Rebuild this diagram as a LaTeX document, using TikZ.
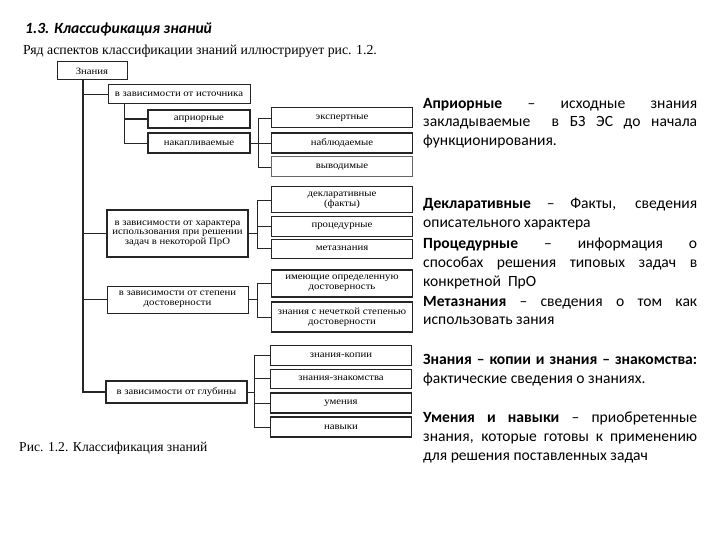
\documentclass[tikz,border=0pt]{standalone}
\usepackage{fontspec}
\setmainfont{Carlito}
\newfontfamily\diafont[FakeStretch=1.12]{Liberation Serif}
\newfontfamily\serfont{Liberation Serif}
\begin{document}
\begin{tikzpicture}[x=1pt,y=-1pt,
  box/.style={draw=black!85,line width=1pt,inner sep=0pt,minimum width=141pt,font=\diafont\fontsize{9.6}{9.6}\selectfont,align=center,fill=white},
  tbox/.style={box,line width=1.5pt},
  conn/.style={draw=black!85,line width=0.9pt},
  rt/.style={anchor=base west,inner sep=0pt,font=\fontsize{15.6}{18}\selectfont}]
\useasboundingbox (0,0) rectangle (720,540);
% headings
\node[anchor=base west,inner sep=0pt,font=\fontsize{15.6}{17}\selectfont\bfseries\itshape] (title) at (25,34) {1.3. Классификация знаний};
\node[anchor=base west,inner sep=0pt,font=\serfont\fontsize{13.8}{15}\selectfont] (sub) at (23,55) {Ряд аспектов классификации знаний иллюстрирует рис. 1.2.};
\node[anchor=base west,inner sep=0pt,font=\serfont\fontsize{13.6}{15}\selectfont] (cap) at (19,451) {Рис. 1.2. Классификация знаний};
% boxes
\node[box,minimum width=70pt,minimum height=18pt] (zn) at (92,71) {Знания};
\node[box,minimum width=142pt,minimum height=19pt] (src) at (179,94.5) {в зависимости от источника};
\node[tbox,minimum width=102pt,minimum height=18pt] (apr) at (199,119) {априорные};
\node[tbox,minimum width=102pt,minimum height=20pt] (nak) at (199,143) {накапливаемые};
\node[box,minimum height=20pt] (eks) at (342,118) {экспертные};
\node[tbox,minimum height=20pt] (nab) at (342,143) {наблюдаемые};
\node[box,minimum height=20pt,draw=black!60] (vyv) at (342,167) {выводимые};
\node[tbox,minimum height=47pt] (har) at (177.5,233.5) {в зависимости от характера\\использования при решении\\задач в некоторой ПрО};
\node[box,minimum height=26pt] (dek) at (342,200) {декларативные\\(факты)};
\node[box,minimum height=19pt] (pro) at (342,226.5) {процедурные};
\node[box,minimum height=19pt] (met) at (342,248.5) {метазнания};
\node[box,minimum height=27pt] (dos) at (177.5,299.5) {в зависимости от степени\\достоверности};
\node[tbox,minimum height=27pt] (ime) at (342,283.5) {имеющие определенную\\достоверность};
\node[tbox,minimum height=30pt] (nec) at (342,317) {знания с нечеткой степенью\\достоверности};
\node[tbox,minimum height=22pt] (glu) at (176.5,392) {в зависимости от глубины};
\node[box,minimum height=20pt] (kop) at (341,355) {знания-копии};
\node[box,minimum height=19pt] (zna) at (341,378.5) {знания-знакомства};
\node[tbox,minimum height=20pt] (ume) at (341,403) {умения};
\node[tbox,minimum height=20pt] (nav) at (341,427) {навыки};
% connector columns
\coordinate (T) at (83,0);
\coordinate (S) at (124,0);
\coordinate (V1) at (258,0);
\coordinate (V2) at (257,0);
\coordinate (V3) at (254,0);
% trunk
\draw[conn,line width=1.2pt] (T |- zn.south) |- (glu.west);
\draw[conn] (T |- src.west) -- (src.west);
\draw[conn] (T |- har.west) -- (har.west);
\draw[conn] (T |- dos.west) -- (dos.west);
% source group
\draw[conn] (S |- src.south) |- (nak.west);
\draw[conn,line width=1.5pt] (S |- apr.west) -- (apr.west);
\draw[conn] (nak.east) -- (V1 |- nak.east);
\draw[conn] (eks.west) -| (V1 |- vyv.west) -- (vyv.west);
\draw[conn] (V1 |- nab.west) -- (nab.west);
% character group
\draw[conn] (har.east) -- (V2 |- har.east);
\draw[conn] (dek.west) -| (V2 |- met.west) -- (met.west);
\draw[conn] (V2 |- pro.west) -- (pro.west);
% reliability group
\draw[conn] (dos.east) -- (V2 |- dos.east);
\draw[conn] (ime.west) -| (V2 |- nec.west) -- (nec.west);
% depth group
\draw[conn] (glu.east) -- (V3 |- glu.east);
\draw[conn] (kop.west) -| (V3 |- nav.west) -- (nav.west);
\draw[conn] (V3 |- zna.west) -- (zna.west);
\draw[conn] (V3 |- ume.west) -- (ume.west);
% right text
\node[rt] (r1) at (423,109) {\makebox[274pt][s]{\textbf{Априорные} – исходные знания}};
\node[rt] (r2) at (423,127) {\makebox[274pt][s]{закладываемые \ в БЗ ЭС до начала}};
\node[rt] (r3) at (423,146) {функционирования.};
\node[rt] (r4) at (423,209) {\makebox[274pt][s]{\textbf{Декларативные} – Факты, сведения}};
\node[rt] (r5) at (423,228) {описательного характера};
\node[rt] (r6) at (423,248) {\makebox[274pt][s]{\textbf{Процедурные} – информация о}};
\node[rt] (r7) at (423,267) {\makebox[274pt][s]{способах решения типовых задач в}};
\node[rt] (r8) at (423,286) {конкретной \ ПрО};
\node[rt] (r9) at (423,306) {\makebox[274pt][s]{\textbf{Метазнания} – сведения о том как}};
\node[rt] (r10) at (423,324) {использовать зания};
\node[rt] (r11) at (423,364) {\makebox[274pt][s]{\textbf{Знания – копии и знания – знакомства:}}};
\node[rt] (r12) at (423,383) {фактические сведения о знаниях.};
\node[rt] (r13) at (423,422) {\makebox[274pt][s]{\textbf{Умения и навыки} – приобретенные}};
\node[rt] (r14) at (423,441) {\makebox[274pt][s]{знания, которые готовы к применению}};
\node[rt] (r15) at (423,460) {для решения поставленных задач};
\end{tikzpicture}
\end{document}
